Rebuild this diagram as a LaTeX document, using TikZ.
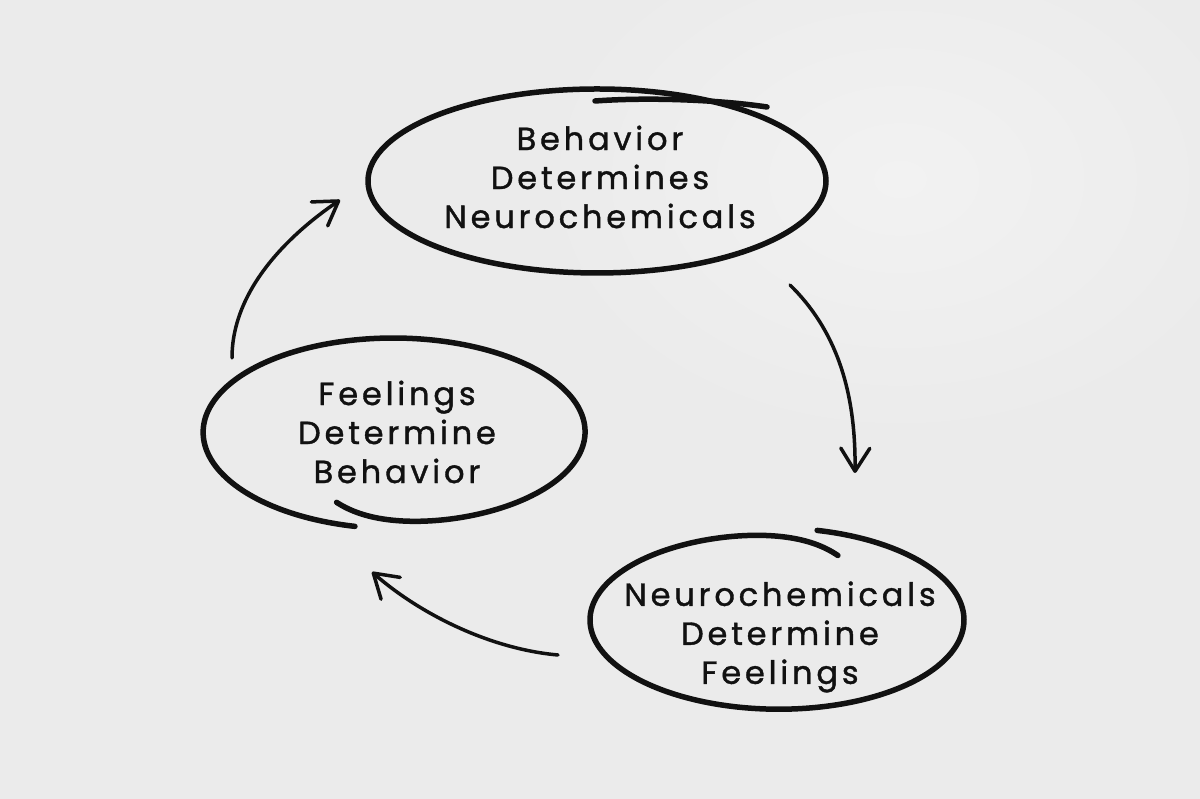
\documentclass[tikz,border=0pt]{standalone}
\usepackage{fontspec}
\setmainfont{Poppins}[LetterSpace=12, FakeBold=1.2]
\usetikzlibrary{arrows.meta,calc}
\definecolor{paper}{HTML}{EBEBEB}
\definecolor{paperlight}{HTML}{F3F3F3}
\definecolor{ink}{HTML}{111111}
\begin{document}
\begin{tikzpicture}[x=1pt,y=1pt,
  ring/.style={draw=ink, line width=5.5pt, line cap=round, line join=round},
  flow/.style={draw=ink, line width=3.5pt, line cap=round,
    -{Straight Barb[length=23pt,width=29pt,round]}},
  txt/.style={align=center, text=ink, inner sep=0pt,
    font=\fontsize{32}{39}\selectfont}]
\useasboundingbox (0,0) rectangle (1200,799);
\fill[paper] (0,0) rectangle (1200,799);
\shade[inner color=paperlight, outer color=paper, opacity=0.9] (900,620) ellipse [x radius=420, y radius=300];

% ring centres
\coordinate (ringB) at (597,618);
\coordinate (ringF) at (395,367);
\coordinate (ringN) at (777,179);

% texts
\node[txt] (bhv) at (600,622) {Behavior\\Determines\\Neurochemicals};
\node[txt] (feel) at (397,367) {Feelings\\Determine\\Behavior};
\node[txt] (neuro) at (780,162) {Neurochemicals\\Determine\\Feelings};

% top ring
\draw[ring] (ringB) ellipse [x radius=229, y radius=92];
\coordinate (bx1) at (595,698);
\coordinate (bx2) at (767,692);
\draw[ring] (bx1) .. controls (650,702) and (720,699) .. (bx2);

% left ring (spiral start inside)
\begin{scope}[shift={(ringF)}]
\draw[ring] plot[domain=252:618, samples=200, smooth]
  ({(189+0.01*(\x-252))*cos(\x)}, {(91+0.015*(\x-252)-17*exp(-(\x-252)/10))*sin(\x)});
\end{scope}

% right ring (spiral end inside)
\begin{scope}[shift={(ringN)}]
\draw[ring] plot[domain=-289:77.6, samples=200, smooth]
  ({187*cos(\x)}, {(89+0.015*(\x+105)-18*exp(-(\x+289)/10))*sin(\x)});
\end{scope}

% connectors
\coordinate (a1s) at (790,514);
\coordinate (a1e) at (855,326);
\coordinate (a2s) at (558,144);
\coordinate (a2e) at (372,227);
\coordinate (a3s) at (232,441);
\coordinate (a3e) at (340,599);
\draw[flow] (a1s) .. controls (835,470) and (856,410) .. (a1e);
\draw[flow] (a2s) .. controls (490,150) and (420,185) .. (a2e);
\draw[flow] (a3s) .. controls (232,510) and (290,565) .. (a3e);
\end{tikzpicture}
\end{document}
